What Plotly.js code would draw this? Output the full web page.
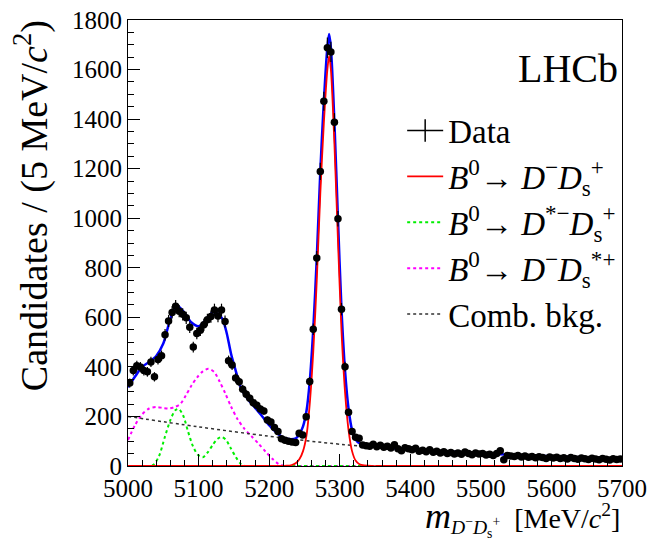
<!DOCTYPE html>
<html><head><meta charset="utf-8">
<script src="https://cdn.plot.ly/plotly-3.0.1.min.js"></script>
<style>body{margin:0;background:#fff}#plot{width:650px;height:541px}</style>
</head><body><div id="plot"></div>
<script>
// Histogram: 140 bins of 5 MeV from 5000 to 5700
const massLow = 5000;
const binWidth = 5;
const counts = [
 335,385,405,400,385,380,420,360,430,445,
 530,585,620,645,625,612,598,560,480,535,
 548,570,590,603,630,605,630,583,425,408,
 355,340,310,290,273,255,245,230,222,186,
 178,155,139,110,104,100,97,95,
 132,125,199,341,552,839,1189,1472,1688,1671,1387,998,633,401,217,139,116,112,
 85,82,80,88,78,84,76,80,73,86,
 70,62,74,70,66,72,60,64,58,66,
 55,60,52,58,50,54,48,52,47,56,
 50,45,52,48,50,44,47,42,50,62,
 25,42,40,38,42,36,40,35,38,33,
 37,34,30,36,32,35,30,33,28,34,
 30,27,32,29,26,31,28,25,30,27,
 24,29,26,28
];
const binCentres = counts.map((_, i) => massLow + binWidth * (i + 0.5));

// Fit curves
const totalMass = [5000,5010,5020,5030,5040,5050,5058,5066,5072,5080,5090,5100,5110,5120,5128,5134,5140,5146,5152,5160,5170,5180,5190,5200,5210,5220,5230,5238,5243,5248,5253,5257.5,5262.5,5267.5,5272.5,5277.5,5282.5,5285,5287.5,5292.5,5297.5,5302.5,5307.5,5312.5,5317.5,5322.5,5328,5335,5345,5400,5500,5600,5700];
const totalFit  = [318,361,400,420,444,494,574,634,643,618,579,564,589,620,613,593,535,453,391,316,269,235,201,165,136,114,108,112,129,160,224,341,551,840,1188,1472,1689,1743,1688,1387,999,634,386,231,145,107,92,86,80,67,51,39,29];

const sigMass = [5000,5215,5225,5232,5238,5243,5248,5253,5257.5,5262.5,5267.5,5272.5,5277.5,5282.5,5285,5287.5,5292.5,5297.5,5302.5,5307.5,5312.5,5317.5,5322.5,5328,5335,5345,5360,5700];
const sigFit  = [0,0,1,4,12,28,60,125,250,460,750,1100,1384,1600,1655,1600,1300,912,547,300,145,60,22,7,2,0,0,0];

const dstMass = [5000,5028,5036,5044,5052,5060,5067,5072,5078,5085,5092,5099,5106,5113,5120,5127,5133,5139,5146,5153,5160,5166,5200,5700];
const dstFit  = [0,0,5,40,115,185,225,230,205,140,80,45,35,55,85,110,117,105,70,35,8,0,0,0];

const dsstMass = [5000,5010,5020,5030,5040,5050,5058,5066,5074,5082,5090,5098,5106,5114,5122,5130,5138,5146,5155,5165,5175,5185,5195,5205,5213,5222,5250,5700];
const dsstFit  = [105,165,208,232,238,234,232,238,250,285,325,358,382,392,380,340,292,240,190,150,120,90,58,28,9,0,0,0];

const combMass = [5000,5100,5200,5250,5300,5400,5500,5600,5700];
const combFit  = [200,158,120,103,88,67,51,39,29];

const serif = 'Liberation Serif, Times New Roman, serif';

const traces = [
  {x: dsstMass, y: dsstFit, mode:'lines', line:{color:'#ff00ff', width:2, dash:'dot', shape:'spline', smoothing:0.8},
   name:'<i>B</i><sup>0</sup>→ <i>D</i><sup>−</sup><i>D</i><sub>s</sub><sup>*+</sup>', legendrank:4, legendgroup:'d'},
  {x: dstMass, y: dstFit, mode:'lines', line:{color:'#00ee00', width:2, dash:'dot', shape:'spline', smoothing:0.8},
   name:'<i>B</i><sup>0</sup>→ <i>D</i><sup>*−</sup><i>D</i><sub>s</sub><sup>+</sup>', legendrank:3, legendgroup:'c'},
  {x: combMass, y: combFit, mode:'lines', line:{color:'#333', width:1.5, dash:'dot', shape:'spline'},
   name:'Comb. bkg.', legendrank:5, legendgroup:'e'},
  {x: totalMass, y: totalFit, mode:'lines', line:{color:'#0000ff', width:2.5, shape:'spline', smoothing:0.8},
   name:'Total', showlegend:false},
  {x: sigMass, y: sigFit, mode:'lines', line:{color:'#ff0000', width:1.8, shape:'spline', smoothing:0.8},
   name:'<i>B</i><sup>0</sup>→ <i>D</i><sup>−</sup><i>D</i><sub>s</sub><sup>+</sup>', legendrank:2, legendgroup:'b'},
  {x: binCentres, y: counts, mode:'markers', marker:{color:'black', size:7.5},
   error_y:{type:'sqrt', color:'black', thickness:1.2, width:0},
   error_x:{type:'constant', value:binWidth/2, color:'black', thickness:1, width:0},
   name:'Data', showlegend:false},
  {x:[null], y:[null], mode:'lines+markers', line:{color:'black', width:1.5},
   marker:{symbol:'line-ns', size:22, line:{color:'black', width:1.5}},
   name:'Data', legendrank:1, legendgroup:'a'}
];

const layout = {
  width:650, height:541,
  margin:{l:128, r:28, t:20, b:75},
  paper_bgcolor:'white', plot_bgcolor:'white',
  font:{family:serif, color:'black'},
  showlegend:true,
  legend:{x:0.555, y:0.815, xanchor:'left', yanchor:'top', font:{family:serif, size:33},
          bgcolor:'rgba(0,0,0,0)', itemwidth:36, tracegroupgap:4, traceorder:'normal'},
  xaxis:{range:[5000,5700], dtick:100, ticks:'inside', ticklen:12, tickwidth:1, tickcolor:'black',
         minor:{dtick:20, ticks:'inside', ticklen:6, tickcolor:'black'},
         showline:true, linecolor:'black', linewidth:1, mirror:true, showgrid:false, zeroline:false,
         tickfont:{family:serif, size:25}, automargin:false},
  yaxis:{range:[0,1800], dtick:200, ticks:'inside', ticklen:12, tickwidth:1, tickcolor:'black',
         minor:{dtick:50, ticks:'inside', ticklen:6, tickcolor:'black'},
         showline:true, linecolor:'black', linewidth:1, mirror:true, showgrid:false, zeroline:false,
         tickfont:{family:serif, size:25}, automargin:false},
  annotations:[
    {xref:'paper', yref:'paper', x:-0.194, y:0.583, xanchor:'center', yanchor:'middle', textangle:-90, showarrow:false,
     text:'Candidates / (5 MeV/<i>c</i><sup>2</sup>)', font:{family:serif, size:38}},
    {xref:'paper', yref:'paper', x:0.995, y:0.892, xanchor:'right', yanchor:'middle', showarrow:false,
     text:'LHCb', font:{family:serif, size:40}},
    {xref:'paper', yref:'paper', x:1.0, y:-0.117, xanchor:'right', yanchor:'middle', showarrow:false,
     text:'<span style="font-size:36px"><i>m</i></span><sub><i>D</i><sup>−</sup><i>D</i><sub>s</sub><sup>+</sup></sub>  [MeV/<i>c</i><sup>2</sup>]',
     font:{family:serif, size:28}}
  ]
};

Plotly.newPlot('plot', traces, layout, {displayModeBar:false, staticPlot:true});
</script>
</body></html>
